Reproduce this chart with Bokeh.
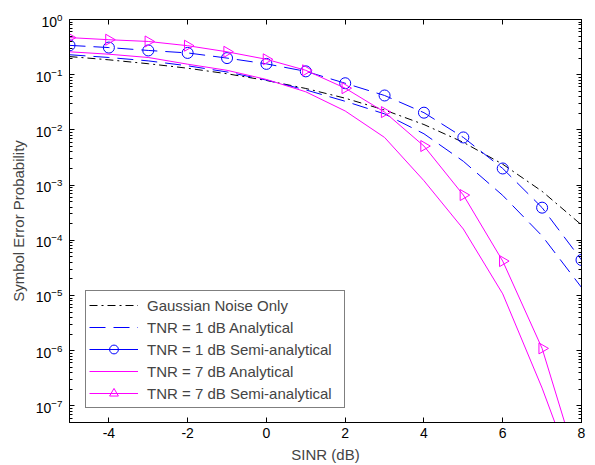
from bokeh.plotting import figure
from bokeh.models import (Range1d, LogAxis, LinearAxis, FixedTicker, Legend,
                          LegendItem, ColumnDataSource, CustomJSTickFormatter)
from bokeh.embed import file_html
from bokeh.resources import INLINE
import math

# ---- data ----
sinr = [-5, -4, -3, -2, -1, 0, 1, 2, 3, 4, 5, 6, 7, 8]
gauss = [0.213, 0.186, 0.158, 0.131, 0.104, 0.0786, 0.0563, 0.0375, 0.0229,
         0.0125, 0.00595, 0.00239, 7.7e-4, 1.9e-4]
tnr1_ana = [0.23, 0.205, 0.178, 0.145, 0.112, 0.08, 0.053, 0.033, 0.0195,
            0.0085, 0.0027, 6.5e-4, 1.2e-4, 1.4e-5]
tnr1_semi = [0.34, 0.31, 0.275, 0.248, 0.20, 0.157, 0.115, 0.070, 0.042,
             0.0205, 0.0073, 0.0020, 3.9e-4, 4.4e-5]
tnr7_ana = [0.26, 0.235, 0.205, 0.155, 0.12, 0.082, 0.049, 0.022, 0.0073,
            0.0012, 1.6e-4, 1.07e-5, 2.1e-7, 2.5e-9]
tnr7_semi = [0.47, 0.43, 0.40, 0.335, 0.26, 0.19, 0.12, 0.057, 0.021,
             0.0051, 6.6e-4, 4.2e-5, 1.1e-6, 5e-9]

x_ticks = [-4, -2, 0, 2, 4, 6, 8]
x_tick_labels = ["-4", "-2", "0", "2", "4", "6", "8"]
y_decades = [-7, -6, -5, -4, -3, -2, -1, 0]
labels = ["Gaussian Noise Only", "TNR = 1 dB Analytical",
          "TNR = 1 dB Semi-analytical", "TNR = 7 dB Analytical",
          "TNR = 7 dB Semi-analytical"]

FONT = "Liberation Sans"
BLUE = "#0000FF"
MAG = "#FF00FF"

src = ColumnDataSource(dict(x=sinr, g=gauss, a1=tnr1_ana, s1=tnr1_semi,
                            a7=tnr7_ana, s7=tnr7_semi))

p = figure(width=595, height=465, y_axis_type="log",
           x_range=Range1d(-5, 8), y_range=Range1d(5e-8, 1),
           output_backend="svg", toolbar_location=None,
           min_border_left=69, min_border_right=14, min_border_top=19,
           min_border_bottom=43, background_fill_color="white",
           border_fill_color="white")
p.grid.visible = False
p.outline_line_color = "black"
p.outline_line_width = 1

yt_major = [10.0 ** e for e in y_decades]
yt_minor = [k * 10.0 ** e for e in range(-8, 0) for k in range(2, 10)]
xt = FixedTicker(ticks=x_ticks, minor_ticks=[])
yt = FixedTicker(ticks=yt_major, minor_ticks=yt_minor)
blank = CustomJSTickFormatter(code="return '';")

def style(ax):
    ax.major_tick_in = 5
    ax.major_tick_out = 0
    ax.minor_tick_in = 3
    ax.minor_tick_out = 0
    ax.axis_line_color = "black"
    ax.major_tick_line_color = "black"
    ax.minor_tick_line_color = "black"
    ax.major_label_text_font = FONT
    ax.major_label_text_font_size = "14px"
    ax.major_label_text_color = "black"
    ax.axis_label_text_font = FONT
    ax.axis_label_text_font_size = "15px"
    ax.axis_label_text_font_style = "normal"

xa = p.xaxis[0]
xa.ticker = xt
xa.axis_label = "SINR (dB)"
style(xa)
xa.major_label_overrides = {t: s for t, s in zip(x_ticks, x_tick_labels)}
xa.major_label_standoff = 5
xa.axis_label_standoff = 5

ya = p.yaxis[0]
ya.ticker = yt
ya.axis_label = "Symbol Error Probability"
style(ya)
ya.major_label_standoff = 7
ya.axis_label_standoff = 6

top = LinearAxis(ticker=xt, formatter=blank)
style(top)
top.major_label_text_font_size = "1px"
top.major_label_standoff = 0
p.add_layout(top, "above")
right = LogAxis(ticker=yt, formatter=blank)
style(right)
right.major_label_text_font_size = "1px"
right.major_label_standoff = 0
p.add_layout(right, "right")

# ---- curves ----
rg = p.line("x", "g", source=src, line_color="black", line_width=1,
            line_dash="8 4 2 4")
ra1 = p.line("x", "a1", source=src, line_color=BLUE, line_width=1,
             line_dash="16 8")
rs1l = p.line("x", "s1", source=src, line_color=BLUE, line_width=1,
              line_dash="16 8")
rs1m = p.scatter("x", "s1", source=src, marker="circle", size=11,
                 line_color=BLUE, fill_color=None, line_width=1)
ra7 = p.line("x", "a7", source=src, line_color=MAG, line_width=1)
rs7l = p.line("x", "s7", source=src, line_color=MAG, line_width=1)
rs7m = p.scatter("x", "s7", source=src, marker="triangle", size=11,
                 angle=-math.pi / 2, line_color=MAG, fill_color=None,
                 line_width=1)

# hidden solid line: only used to draw the legend sample
leg_b = p.line("x", "s1", source=src, line_color=BLUE, line_width=1,
               visible=False)

legend = Legend(items=[
    LegendItem(label=labels[0], renderers=[rg]),
    LegendItem(label=labels[1], renderers=[ra1]),
    LegendItem(label=labels[2], renderers=[leg_b, rs1m]),
    LegendItem(label=labels[3], renderers=[ra7]),
    LegendItem(label=labels[4], renderers=[rs7l, rs7m]),
], location=(16, 14), padding=3, spacing=0, margin=0,
    glyph_width=49, glyph_height=22, label_height=22, label_width=194,
    label_standoff=9, label_text_font=FONT, label_text_font_size="15px",
    border_line_color="black", border_line_width=1,
    background_fill_color="white", background_fill_alpha=1)
p.add_layout(legend, "center")

open("out.html", "w").write(file_html(p, INLINE))
